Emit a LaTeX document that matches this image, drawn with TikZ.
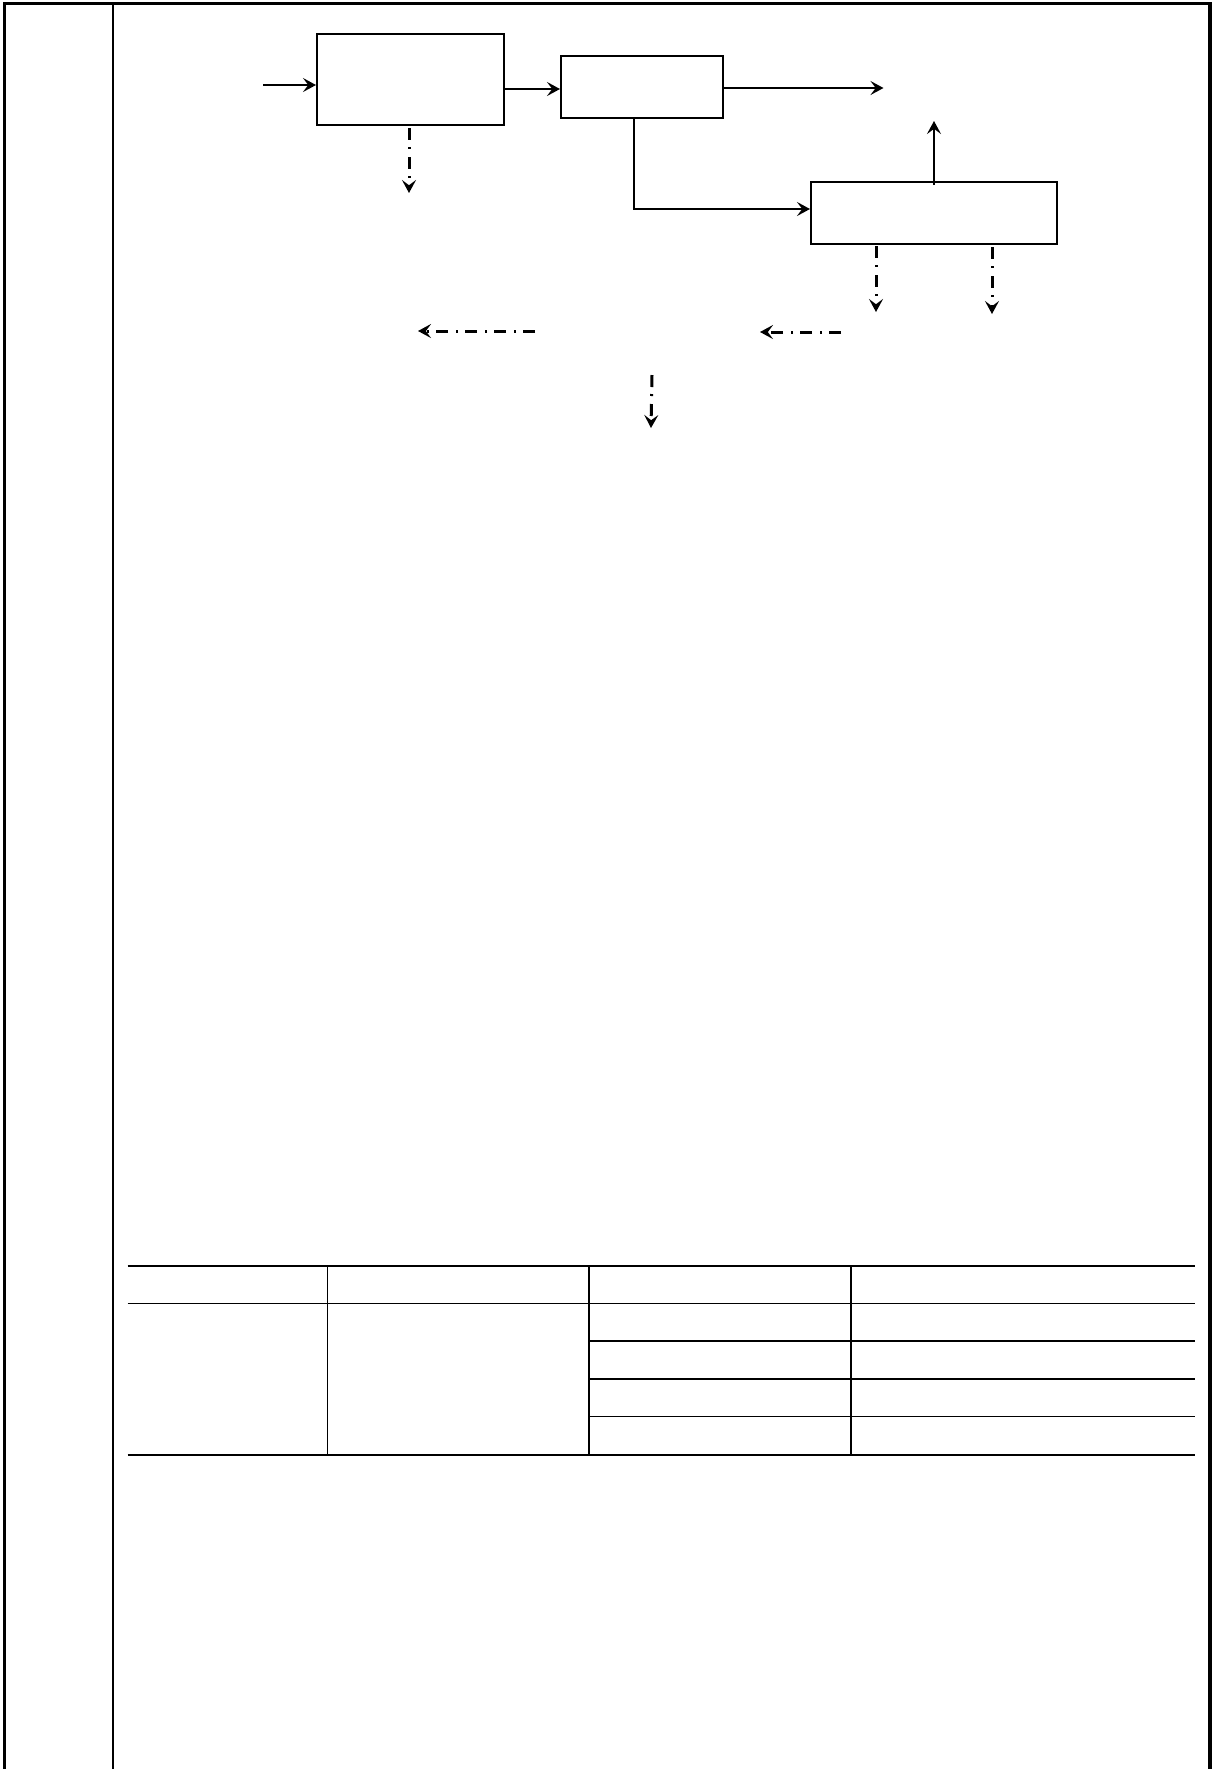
\documentclass[tikz,border=0pt]{standalone}
\usetikzlibrary{arrows.meta,calc}
\begin{document}
\begin{tikzpicture}[x=0.5pt,y=-0.5pt,
  box/.style={draw,line width=1pt,inner sep=0pt,minimum width=#1},
  box/.default=10pt,
  tip/.style={-{Stealth[length=6.5pt,width=7pt,inset=2.6pt]}},
  arr/.style={line width=1pt,tip},
  darr/.style={line width=1.5pt,dash pattern=on 6pt off 3.5pt on 1pt off 4pt,tip},
  frame/.style={line width=1.6pt},
  thin/.style={line width=0.75pt},
  rule/.style={line width=1pt}]
\useasboundingbox (0,0) rectangle (1212,1769);
% frame
\draw[frame] (4.5,1769) -- (4.5,3.5) -- (1210,3.5) -- (1210,1769);
\draw[thin] (113,3.5) -- (113,1769);
% boxes
\node[box=93.5pt,minimum height=45.5pt] (b1) at (410.5,79.5) {};
\node[box=81pt,minimum height=31pt] (b2) at (642,87) {};
\node[box=123pt,minimum height=31pt] (b3) at (934,213) {};
% helper coordinates
\coordinate (in) at (263,85);
\coordinate (y89) at (0,89);
\coordinate (y88) at (0,88);
\coordinate (out1) at (883.5,88);
\coordinate (x634) at (634,0);
\coordinate (y209) at (0,209);
\coordinate (up1) at (934,121);
\coordinate (d1) at (409,193);
\coordinate (d2s) at (876,246);
\coordinate (d2) at (876,312);
\coordinate (d3s) at (992,247);
\coordinate (d3) at (992,314);
\coordinate (l1s) at (535,331);
\coordinate (l1) at (418,331);
\coordinate (l2s) at (841,332);
\coordinate (l2) at (760,332);
\coordinate (v1s) at (652,375);
\coordinate (v1) at (651,428);
% solid connectors
\draw[arr] (in) -- (b1.west |- in);
\draw[arr] (b1.east |- y89) -- (b2.west |- y89);
\draw[arr] (b2.east |- y88) -- (out1);
\draw[arr] (b2.south -| x634) |- (b3.west |- y209);
\draw[arr,line width=0.9pt] ($(b3.north)+(0,4)$) -- (up1);
% dashed connectors
\draw[darr] ($(b1.south)+(-1.5,2)$) -- (d1);
\draw[darr] (d2s) -- (d2);
\draw[darr] (d3s) -- (d3);
\draw[darr] (l1s) -- (l1);
\draw[darr] (l2s) -- (l2);
\draw[darr] (v1s) -- (v1);
% table
\draw[rule] (127.5,1266) -- (1194.5,1266);
\draw[thin] (127.5,1303.5) -- (1194.5,1303.5);
\draw[thin] (589,1341) -- (1194.5,1341);
\draw[thin] (589,1379) -- (1194.5,1379);
\draw[thin] (589,1416.7) -- (1194.5,1416.7);
\draw[rule] (127.5,1454.5) -- (1194.5,1454.5);
\draw[thin] (327.5,1266) -- (327.5,1454.5);
\draw[thin] (589,1266) -- (589,1454.5);
\draw[thin] (851,1266) -- (851,1454.5);
\end{tikzpicture}
\end{document}
